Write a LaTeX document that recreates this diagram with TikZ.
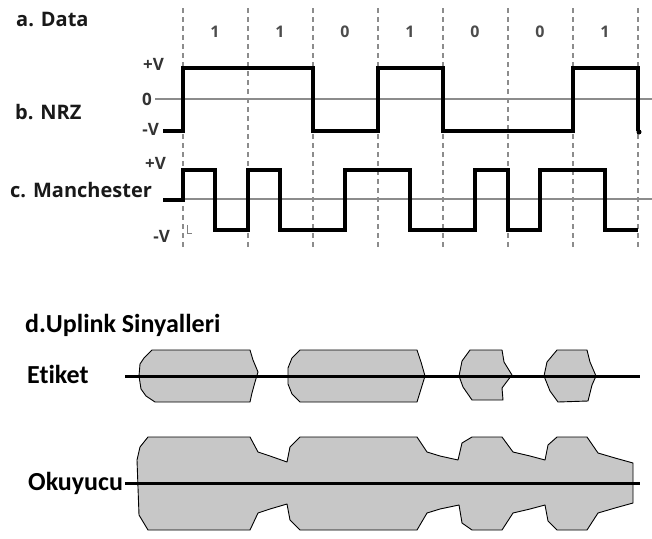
\documentclass[tikz,border=0pt]{standalone}
\usepackage{fontspec}
\setmainfont{Open Sans}
\newfontfamily\calfont[Ligatures=NoCommon]{Carlito}
\begin{document}
\begin{tikzpicture}[x=1pt,y=-1pt,
  wave/.style={line width=4pt,line join=miter},
  axisline/.style={line width=1.2pt,color=black!45},
  grid/.style={line width=1.2pt,color=black!45,dash pattern=on 5pt off 4pt},
  toplbl/.style={font=\bfseries\fontsize{20}{20}\selectfont,inner sep=0pt,text=black!90},
  vlbl/.style={font=\bfseries\fontsize{17}{17}\selectfont,inner sep=0pt,text=black!80},
  bitlbl/.style={font=\bfseries\fontsize{16}{16}\selectfont,inner sep=0pt,text=black!70},
  botlbl/.style={font=\calfont\bfseries\fontsize{26}{26}\selectfont,inner sep=0pt},
  blob/.style={draw=black,line width=0.9pt,fill=black!22,line join=round},
  sigline/.style={line width=3pt}]
\useasboundingbox (0,0) rectangle (652,538);
\fill[white] (0,0) rectangle (652,538);

% dashed bit boundaries
\foreach \x in {183,248,313,378,443,508,573,638}
  \draw[grid] (\x,8) -- (\x,248);

% bit values
\foreach \x/\b [count=\i] in {215/1,280/1,345/0,410/1,475/0,540/0,605/1}
  \node[bitlbl] (bit\i) at (\x,32) {\b};

% labels
\node[toplbl,anchor=west] (la) at (16,19) {a. Data};
\node[toplbl,anchor=west] (lb) at (15,112) {b. NRZ};
\node[toplbl,anchor=west] (lc) at (10,190) {c. Manchester};
\node[vlbl,anchor=east] (nrzp) at (164,64) {+V};
\node[vlbl,anchor=east] (nrz0) at (152,99) {0};
\node[vlbl,anchor=east] (nrzm) at (159,129) {-V};
\node[vlbl,anchor=east] (manp) at (166,163) {+V};
\node[vlbl,anchor=east] (manm) at (170,236) {-V};

% axis lines
\draw[axisline] (155,99) -- (652,99);
\draw[axisline] (183,199) -- (652,199);
\draw[black!50,line width=0.9pt] (187,225) -- (187,233) -- (192,233);

% NRZ
\draw[wave] (163,131) -- (183,131) -- (183,68) -- (313,68) -- (313,131) -- (378,131)
  -- (378,68) -- (443,68) -- (443,131) -- (573,131) -- (573,68) -- (638,68) -- (638,131);
\fill (639,132) circle (2.5pt);

% Manchester
\draw[wave] (163,200) -- (183,200) -- (183,170) -- (215,170) -- (215,230) -- (248,230)
  -- (248,170) -- (280,170) -- (280,230) -- (345,230) -- (345,170) -- (410,170)
  -- (410,230) -- (475,230) -- (475,170) -- (508,170) -- (508,230) -- (540,230)
  -- (540,170) -- (605,170) -- (605,230) -- (638,230);

% Uplink
\node[botlbl,anchor=west] (ld) at (25,325) {d.Uplink Sinyalleri};
\node[botlbl,anchor=west] (let) at (27,374) {Etiket};
\node[botlbl,anchor=west] (lok) at (28,483) {Okuyucu};

% Etiket blobs
\draw[blob] (152,350) -- (250,350) -- (253,360) -- (258,372) -- (255,382) -- (252,393) -- (250,402)
  -- (155,402) -- (146,396) -- (141,389) -- (139,376) -- (140,364) -- (144,358) -- cycle;
\draw[blob] (300,350) -- (417,350) -- (421,362) -- (425,376) -- (421,389) -- (417,402)
  -- (300,402) -- (292,394) -- (288,384) -- (288,368) -- (292,358) -- cycle;
\draw[blob] (470,350) -- (502,350) -- (504,362) -- (512,375) -- (508,380) -- (502,388) -- (503,400)
  -- (472,400) -- (463,387) -- (459,376) -- (462,361) -- cycle;
\draw[blob] (557,350) -- (587,350) -- (590,362) -- (596,376) -- (592,385) -- (588,401)
  -- (558,402) -- (550,391) -- (544,376) -- (547,362) -- cycle;

% Okuyucu blob
\draw[blob] (148,437) -- (250,437) -- (258,452) -- (270,456) -- (287,462) -- (290,447) -- (300,437)
  -- (417,437) -- (427,452) -- (440,456) -- (458,460) -- (462,443) -- (472,437)
  -- (502,437) -- (513,452) -- (530,456) -- (545,460) -- (548,445) -- (557,437)
  -- (587,437) -- (598,453) -- (615,458) -- (633,463) -- (633,503) -- (615,508) -- (598,513)
  -- (587,530) -- (557,530) -- (548,521) -- (545,505) -- (530,509) -- (513,513) -- (502,530)
  -- (472,530) -- (462,523) -- (459,505) -- (440,509) -- (427,513) -- (417,530)
  -- (300,530) -- (290,520) -- (287,504) -- (270,509) -- (258,513) -- (250,530)
  -- (148,530) -- (139,515) -- (137,460) -- (140,447) -- cycle;

% signal lines
\coordinate (e0) at (125,376);
\coordinate (e1) at (640,376);
\coordinate (o1) at (640,483);
\draw[sigline] (e0) -- (e1);
\draw[sigline] ([xshift=2pt]lok.east) -- (o1);
\end{tikzpicture}
\end{document}
